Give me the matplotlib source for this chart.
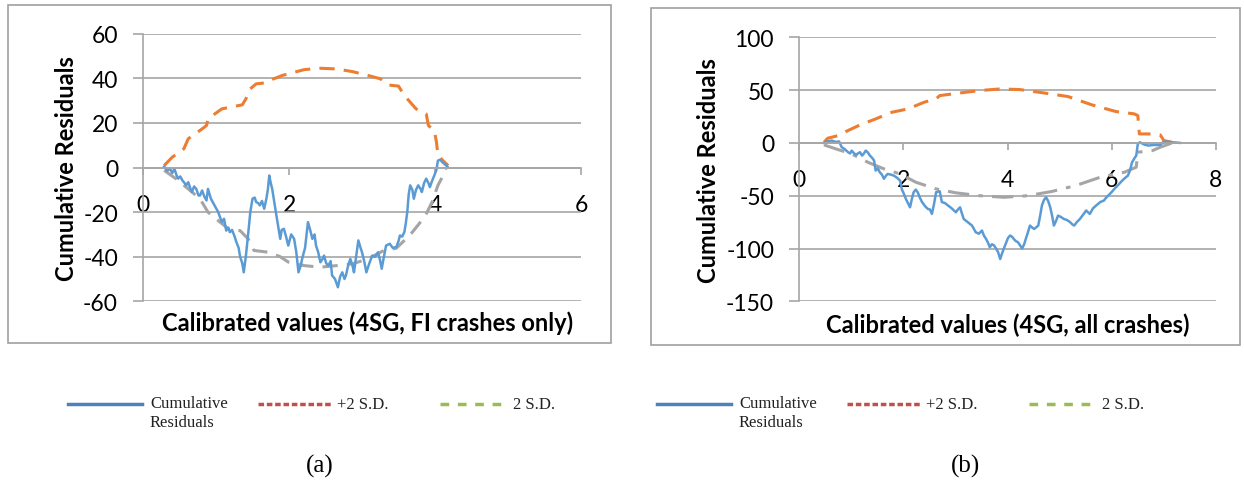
import matplotlib
matplotlib.use("Agg")
import matplotlib.pyplot as plt
from matplotlib.lines import Line2D
from matplotlib.patches import Rectangle

plt.rcParams["axes.unicode_minus"] = False

# Panel (a): 4SG, FI crashes only
a_sd_up_x = [0.29, 0.40, 0.56, 0.62, 0.78, 0.87, 0.89, 1.08, 1.19, 1.36, 1.41, 1.47, 1.55, 1.69, 1.77,
             1.91, 1.99, 2.21, 2.43, 2.65, 2.87, 3.08, 3.25, 3.36, 3.50, 3.58, 3.74, 3.88, 3.91, 3.99,
             4.02, 4.04, 4.13, 4.18]
a_sd_up_y = [0.9, 4.6, 8.4, 12.9, 16.6, 18.8, 21.8, 26.3, 27.0, 28.1, 30.8, 35.3, 37.5, 38.0, 39.5,
             41.3, 42.0, 43.9, 44.5, 44.2, 43.0, 41.3, 39.8, 37.0, 36.5, 32.3, 26.3, 24.0, 18.8, 16.6,
             11.4, 5.4, 2.4, 0.9]
a_sd_lo_x = [0.29, 0.45, 0.62, 0.78, 0.89, 1.03, 1.17, 1.33, 1.44, 1.52, 1.72, 1.88, 1.99, 2.21, 2.43,
             2.65, 2.87, 3.08, 3.30, 3.47, 3.58, 3.69, 3.80, 3.88, 3.96, 4.04, 4.10, 4.15]
a_sd_lo_y = [-1.3, -5.0, -9.6, -14.0, -20.0, -23.8, -27.5, -28.3, -32.0, -37.2, -38.0, -40.0, -42.4,
             -44.0, -44.7, -44.0, -43.2, -41.0, -37.2, -36.2, -32.7, -29.0, -24.5, -20.8, -15.5, -8.0,
             -4.3, -0.6]
a_res_x = [0.29, 0.33, 0.37, 0.40, 0.43, 0.46, 0.48, 0.51, 0.54, 0.57, 0.59, 0.62, 0.65, 0.67, 0.70,
           0.73, 0.76, 0.78, 0.81, 0.84, 0.87, 0.89, 0.93, 0.98, 1.03, 1.08, 1.11, 1.14, 1.17, 1.19,
           1.22, 1.25, 1.28, 1.31, 1.33, 1.36, 1.38, 1.41, 1.44, 1.47, 1.50, 1.53, 1.55, 1.58, 1.60,
           1.63, 1.66, 1.69, 1.71, 1.73, 1.75, 1.77, 1.80, 1.82, 1.85, 1.88, 1.90, 1.93, 1.96, 1.99,
           2.03, 2.07, 2.10, 2.13, 2.16, 2.18, 2.22, 2.26, 2.29, 2.32, 2.35, 2.37, 2.40, 2.43, 2.46,
           2.48, 2.51, 2.54, 2.57, 2.59, 2.63, 2.67, 2.70, 2.73, 2.76, 2.78, 2.81, 2.84, 2.87, 2.89,
           2.92, 2.95, 2.98, 3.00, 3.03, 3.06, 3.10, 3.14, 3.18, 3.22, 3.25, 3.27, 3.30, 3.33, 3.38,
           3.42, 3.47, 3.50, 3.52, 3.55, 3.58, 3.60, 3.62, 3.64, 3.66, 3.69, 3.71, 3.74, 3.77, 3.80,
           3.82, 3.85, 3.88, 3.91, 3.93, 3.96, 3.99, 4.02, 4.04, 4.07, 4.10, 4.17]
a_res_y = [0.4, -1.5, -0.6, -2.5, -0.6, -3.5, -5.0, -4.0, -5.8, -7.0, -8.0, -6.6, -9.5, -11.0, -8.5,
           -9.6, -12.5, -12.6, -10.3, -13.0, -14.8, -9.6, -14.0, -17.0, -20.0, -24.5, -23.0, -28.3,
           -27.0, -29.0, -28.0, -30.5, -33.5, -36.0, -40.0, -43.0, -47.0, -39.5, -30.0, -20.0, -14.0,
           -13.5, -15.5, -16.0, -17.0, -15.0, -18.5, -14.0, -10.0, -3.6, -7.0, -9.6, -16.0, -20.0,
           -26.0, -32.0, -28.0, -27.5, -31.0, -35.0, -30.0, -32.0, -38.0, -47.0, -44.0, -41.0, -36.0,
           -24.5, -28.0, -32.0, -30.0, -35.0, -38.0, -42.5, -41.0, -39.5, -43.0, -44.0, -42.0, -48.4,
           -50.0, -53.7, -49.0, -47.0, -50.0, -48.4, -44.0, -41.0, -44.0, -47.0, -40.0, -32.7, -36.0,
           -38.0, -42.0, -47.0, -43.0, -39.5, -40.0, -38.0, -42.0, -45.4, -40.0, -35.0, -34.2, -36.0,
           -35.7, -33.0, -30.5, -31.0, -29.0, -25.0, -20.0, -12.0, -8.0, -10.0, -14.0, -10.0, -8.0,
           -9.5, -11.0, -7.0, -5.0, -7.0, -8.8, -6.0, -3.6, -1.0, 3.1, 3.5, 2.4, 0.4]

# Panel (b): 4SG, all crashes
b_sd_up_x = [0.48, 0.55, 0.75, 0.94, 1.17, 1.47, 1.78, 2.09, 2.40, 2.63, 2.70, 3.09, 3.47, 3.86, 4.24,
             4.70, 5.16, 5.62, 6.08, 6.43, 6.50, 6.53, 6.70, 6.93, 7.00, 7.16, 7.31]
b_sd_up_y = [0.6, 4.4, 6.9, 11.7, 17.0, 22.7, 29.0, 32.2, 38.5, 41.7, 44.8, 47.3, 49.6, 51.1, 50.5,
             47.3, 43.9, 36.0, 29.7, 27.5, 25.9, 8.5, 8.5, 7.6, 2.2, 0.6, 0.0]
b_sd_lo_x = [0.48, 0.71, 1.01, 1.32, 1.63, 1.94, 2.24, 2.63, 3.01, 3.47, 3.93, 4.39, 4.85, 5.31, 5.78,
             6.24, 6.47, 6.50, 6.78, 6.93, 7.16, 7.31]
b_sd_lo_y = [-1.9, -5.7, -10.4, -18.3, -24.6, -29.4, -37.2, -43.6, -47.3, -50.0, -51.5, -50.0, -46.0,
             -40.4, -32.5, -27.8, -23.0, -8.8, -7.3, -4.1, 0.0, 0.0]
b_res_x = [0.48, 0.55, 0.63, 0.70, 0.77, 0.82, 0.88, 0.94, 0.98, 1.01, 1.05, 1.09, 1.13, 1.17, 1.21,
           1.24, 1.28, 1.32, 1.36, 1.40, 1.44, 1.47, 1.51, 1.55, 1.59, 1.63, 1.67, 1.70, 1.76, 1.82,
           1.88, 1.94, 1.97, 2.01, 2.05, 2.09, 2.13, 2.17, 2.20, 2.24, 2.28, 2.32, 2.36, 2.42, 2.47,
           2.51, 2.55, 2.59, 2.63, 2.70, 2.74, 2.80, 2.86, 2.93, 3.01, 3.05, 3.09, 3.12, 3.16, 3.21,
           3.26, 3.32, 3.36, 3.39, 3.45, 3.51, 3.55, 3.59, 3.63, 3.66, 3.70, 3.74, 3.78, 3.82, 3.86,
           3.90, 3.93, 3.97, 4.01, 4.05, 4.09, 4.12, 4.16, 4.20, 4.24, 4.28, 4.32, 4.35, 4.39, 4.43,
           4.47, 4.51, 4.55, 4.59, 4.63, 4.66, 4.70, 4.74, 4.78, 4.82, 4.86, 4.89, 4.93, 4.97, 5.02,
           5.08, 5.14, 5.20, 5.24, 5.28, 5.33, 5.39, 5.45, 5.51, 5.55, 5.58, 5.64, 5.70, 5.78, 5.85,
           5.89, 5.93, 5.99, 6.05, 6.12, 6.20, 6.26, 6.31, 6.35, 6.39, 6.43, 6.47, 6.50, 6.54, 6.62,
           6.70, 6.80, 6.93, 7.00, 7.16, 7.31]
b_res_y = [0.0, 1.5, 2.2, 1.0, 1.3, -4.1, -6.0, -8.8, -10.0, -7.3, -9.5, -11.4, -10.0, -8.8, -12.0,
           -10.4, -7.3, -9.0, -12.0, -14.0, -16.7, -26.2, -24.0, -27.8, -30.0, -34.0, -31.0, -29.4,
           -30.0, -31.0, -33.0, -35.7, -43.6, -48.0, -53.0, -57.0, -61.0, -52.0, -46.7, -44.2, -47.0,
           -52.0, -56.0, -60.0, -62.5, -63.0, -67.2, -58.0, -46.7, -45.8, -56.0, -57.0, -59.3, -62.0,
           -65.7, -63.0, -61.0, -66.0, -72.0, -74.0, -76.0, -78.3, -82.0, -84.6, -86.0, -83.0, -88.0,
           -91.0, -95.0, -98.8, -96.0, -97.0, -100.0, -103.5, -110.0, -104.0, -100.0, -95.0, -90.0,
           -87.7, -89.0, -91.0, -93.0, -94.0, -97.0, -100.0, -96.0, -91.0, -85.0, -78.3, -80.0, -81.5,
           -80.0, -78.3, -68.0, -59.3, -54.0, -51.5, -55.0, -61.0, -70.0, -78.3, -74.0, -68.8, -70.0,
           -72.0, -73.0, -75.0, -77.0, -78.3, -75.0, -72.0, -68.0, -64.0, -66.0, -67.2, -62.0, -59.3,
           -56.0, -54.6, -52.0, -50.0, -47.0, -43.6, -40.0, -35.7, -33.0, -31.0, -26.0, -18.3, -15.0,
           -12.0, -1.0, 0.6, -1.5, -2.5, -2.0, -1.9, 1.3, 0.6, 0.0]

a_yticks = [-60, -40, -20, 0, 20, 40, 60]
a_xticks = [0, 2, 4, 6]
b_yticks = [-150, -100, -50, 0, 50, 100]
b_xticks = [0, 2, 4, 6, 8]

legend_labels = ["Cumulative\nResiduals", "+2 S.D.", "2 S.D."]

BLUE = "#5B9BD5"
ORANGE = "#ED7D31"
GRAY = "#A5A5A5"
GRID = "#A6A6A6"

fig = plt.figure(figsize=(12.44, 4.85), dpi=100)
W, H = 1244, 485


def fx(px):
    return px / W


def fy(py):
    return 1 - py / H


def setup(ax, xticks, yticks):
    ax.set_xlim(xticks[0], xticks[-1])
    ax.set_ylim(yticks[0], yticks[-1])
    ax.set_yticks(yticks)
    ax.set_xticks(xticks)
    ax.grid(axis="y", color=GRID, linewidth=1.2)
    ax.set_axisbelow(True)
    for s in ["top", "right"]:
        ax.spines[s].set_visible(False)
    ax.spines["left"].set_color(GRID)
    ax.spines["left"].set_linewidth(1.2)
    ax.spines["bottom"].set_position(("data", 0))
    ax.spines["bottom"].set_color(GRID)
    ax.spines["bottom"].set_linewidth(1.2)
    ax.tick_params(axis="y", direction="out", length=7, width=1.2, color=GRID,
                   labelsize=16.5, pad=11)
    ax.tick_params(axis="x", direction="out", length=5, width=1.2, color=GRID,
                   labelsize=16.5, pad=14)
    for lab in ax.get_xticklabels() + ax.get_yticklabels():
        lab.set_family("Lato")
    ax.set_ylabel("Cumulative Residuals", fontsize=17, fontweight="bold",
                  family="Lato", labelpad=4)
    ax.patch.set_alpha(0)


# frames around each chart
fig.add_artist(Rectangle((fx(8), fy(344)), fx(611 - 8), fy(6) - fy(344),
                         fill=False, edgecolor="#A0A0A0", linewidth=1.2))
fig.add_artist(Rectangle((fx(651), fy(346)), fx(1240 - 651), fy(9) - fy(346),
                         fill=False, edgecolor="#A0A0A0", linewidth=1.2))

ax1 = fig.add_axes([fx(143), fy(302.3), fx(581 - 143), fy(34.7) - fy(302.3)])
setup(ax1, a_xticks, a_yticks)
ax1.plot(a_sd_lo_x, a_sd_lo_y, color=GRAY, lw=2.2, dashes=(5, 3))
ax1.plot(a_sd_up_x, a_sd_up_y, color=ORANGE, lw=2.2, dashes=(5, 3))
ax1.plot(a_res_x, a_res_y, color=BLUE, lw=1.8)
fig.text(fx(368), fy(323), "Calibrated values (4SG, FI crashes only)", fontsize=17,
         fontweight="bold", family="Lato", ha="center", va="center")

ax2 = fig.add_axes([fx(799), fy(302.3), fx(1216 - 799), fy(38.3) - fy(302.3)])
setup(ax2, b_xticks, b_yticks)
ax2.plot(b_sd_lo_x, b_sd_lo_y, color=GRAY, lw=2.2, dashes=(7, 3, 1.5, 3))
ax2.plot(b_sd_up_x, b_sd_up_y, color=ORANGE, lw=2.2, dashes=(5, 3))
ax2.plot(b_res_x, b_res_y, color=BLUE, lw=1.8)
fig.text(fx(1008), fy(325), "Calibrated values (4SG, all crashes)", fontsize=17,
         fontweight="bold", family="Lato", ha="center", va="center")

# legends below each chart (drawn in figure pixels)
for off in [0, 589]:
    y0 = fy(405)
    fig.add_artist(Line2D([fx(68 + off), fx(142 + off)], [y0, y0], color="#4F81BD", lw=2.5))
    fig.add_artist(Line2D([fx(258 + off), fx(332 + off)], [y0, y0], color="#C0504D", lw=2.5,
                          dashes=(1.6, 0.8)))
    fig.add_artist(Line2D([fx(440 + off), fx(508 + off)], [y0, y0], color="#9BBB59", lw=2.5,
                          dashes=(2.5, 2.5)))
    fig.text(fx(150 + off), fy(396), legend_labels[0], fontsize=12, family="Liberation Serif",
             va="top", ha="left", linespacing=1.25, color="#222222")
    fig.text(fx(337 + off), y0, legend_labels[1], fontsize=12, family="Liberation Serif",
             va="center", ha="left", color="#222222")
    fig.text(fx(513 + off), y0, legend_labels[2], fontsize=12, family="Liberation Serif",
             va="center", ha="left", color="#222222")

fig.text(fx(320), fy(466), "(a)", fontsize=18, family="Liberation Serif", ha="center", va="center")
fig.text(fx(965), fy(466), "(b)", fontsize=18, family="Liberation Serif", ha="center", va="center")

fig.savefig("out.png", dpi=100)
